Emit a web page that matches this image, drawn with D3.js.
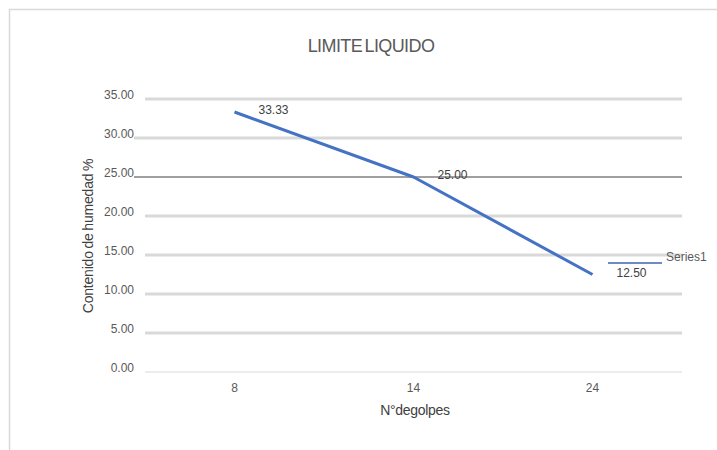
<!DOCTYPE html>
<html>
<head>
<meta charset="utf-8">
<script src="https://cdn.jsdelivr.net/npm/d3@7/dist/d3.min.js"></script>
<style>
  html, body { margin: 0; padding: 0; background: #ffffff; }
  svg { display: block; font-family: "Liberation Sans", Arial, sans-serif; }
</style>
</head>
<body>
<svg id="chart" width="717" height="450"></svg>
<script>
// Liquid limit test: moisture content vs. number of blows
const golpes = ["8", "14", "24"];
const humedad = [33.33, 25.00, 12.50];
const yTicks = [0, 5, 10, 15, 20, 25, 30, 35];
const seriesName = "Series1";
const chartTitle = "LIMITE LIQUIDO";
const xTitle = "N°degolpes";
const yTitle = "Contenido de humedad %";

const svg = d3.select("#chart");
const textGray = "#595959";
const lineBlue = "#4472C4";

// outer chart frame
svg.append("rect")
  .attr("x", 9.5).attr("y", 9.5)
  .attr("width", 760).attr("height", 500)
  .attr("fill", "#ffffff")
  .attr("stroke", "#d9d9d9").attr("stroke-width", 1.5);

const x = d3.scaleBand().domain(golpes).range([145, 682]).paddingInner(0).paddingOuter(0);
const y = d3.scaleLinear().domain([0, 35]).range([372, 99]);

// horizontal gridlines
const grid = svg.append("g");
yTicks.forEach(t => {
  const isBase = t === 0;
  const isRef = t === 25;
  const x0 = (t === 25 || t === 30) ? 134 : 145;
  grid.append("line")
    .attr("x1", x0).attr("x2", 682)
    .attr("y1", y(t)).attr("y2", y(t))
    .attr("stroke", isRef ? "#404040" : "#d9d9d9")
    .attr("stroke-width", isRef ? 1 : (isBase ? 1 : 3));
});

// y axis labels
const yAxis = d3.axisLeft(y).tickValues(yTicks).tickFormat(d3.format(".2f")).tickSize(0).tickPadding(0);
const gy = svg.append("g").attr("transform", "translate(134,-4)").call(yAxis);
gy.select(".domain").remove();
gy.selectAll("text").attr("fill", textGray).attr("font-size", 12)
  .attr("font-family", "'Liberation Sans', Arial, sans-serif");

// x axis labels
const xAxis = d3.axisBottom(x).tickSize(0).tickPadding(0);
const gx = svg.append("g").attr("transform", "translate(0,383)").call(xAxis);
gx.select(".domain").remove();
gx.selectAll("text").attr("fill", textGray).attr("font-size", 12)
  .attr("font-family", "'Liberation Sans', Arial, sans-serif");

// data line
const pts = golpes.map((g, i) => ({ g, v: humedad[i] }));
const line = d3.line().x(d => x(d.g) + x.bandwidth() / 2).y(d => y(d.v));
svg.append("path")
  .datum(pts)
  .attr("d", line)
  .attr("fill", "none")
  .attr("stroke", lineBlue)
  .attr("stroke-width", 3)
  .attr("stroke-linejoin", "round");

// value labels
svg.append("g").selectAll("text")
  .data(pts).join("text")
  .attr("x", d => x(d.g) + x.bandwidth() / 2 + 24)
  .attr("y", d => y(d.v) + 2)
  .attr("fill", "#404040")
  .attr("font-size", 12)
  .text(d => d3.format(".2f")(d.v));

// legend
svg.append("line")
  .attr("x1", 608).attr("x2", 662)
  .attr("y1", 263).attr("y2", 263)
  .attr("stroke", "#3a66b0").attr("stroke-width", 1.3);
svg.append("text")
  .attr("x", 666).attr("y", 261)
  .attr("fill", textGray).attr("font-size", 12)
  .text(seriesName);

// titles
svg.append("text")
  .attr("x", 371).attr("y", 52)
  .attr("text-anchor", "middle")
  .attr("fill", textGray).attr("font-size", 18)
  .attr("letter-spacing", -0.6).attr("word-spacing", -2)
  .text(chartTitle);

svg.append("text")
  .attr("x", 415).attr("y", 415)
  .attr("text-anchor", "middle")
  .attr("fill", "#404040").attr("font-size", 14)
  .attr("letter-spacing", -0.3)
  .text(xTitle);

svg.append("text")
  .attr("transform", "translate(93,236) rotate(-90)")
  .attr("text-anchor", "middle")
  .attr("fill", "#404040").attr("font-size", 14)
  .attr("letter-spacing", -0.2).attr("word-spacing", -1)
  .text(yTitle);
</script>
</body>
</html>
